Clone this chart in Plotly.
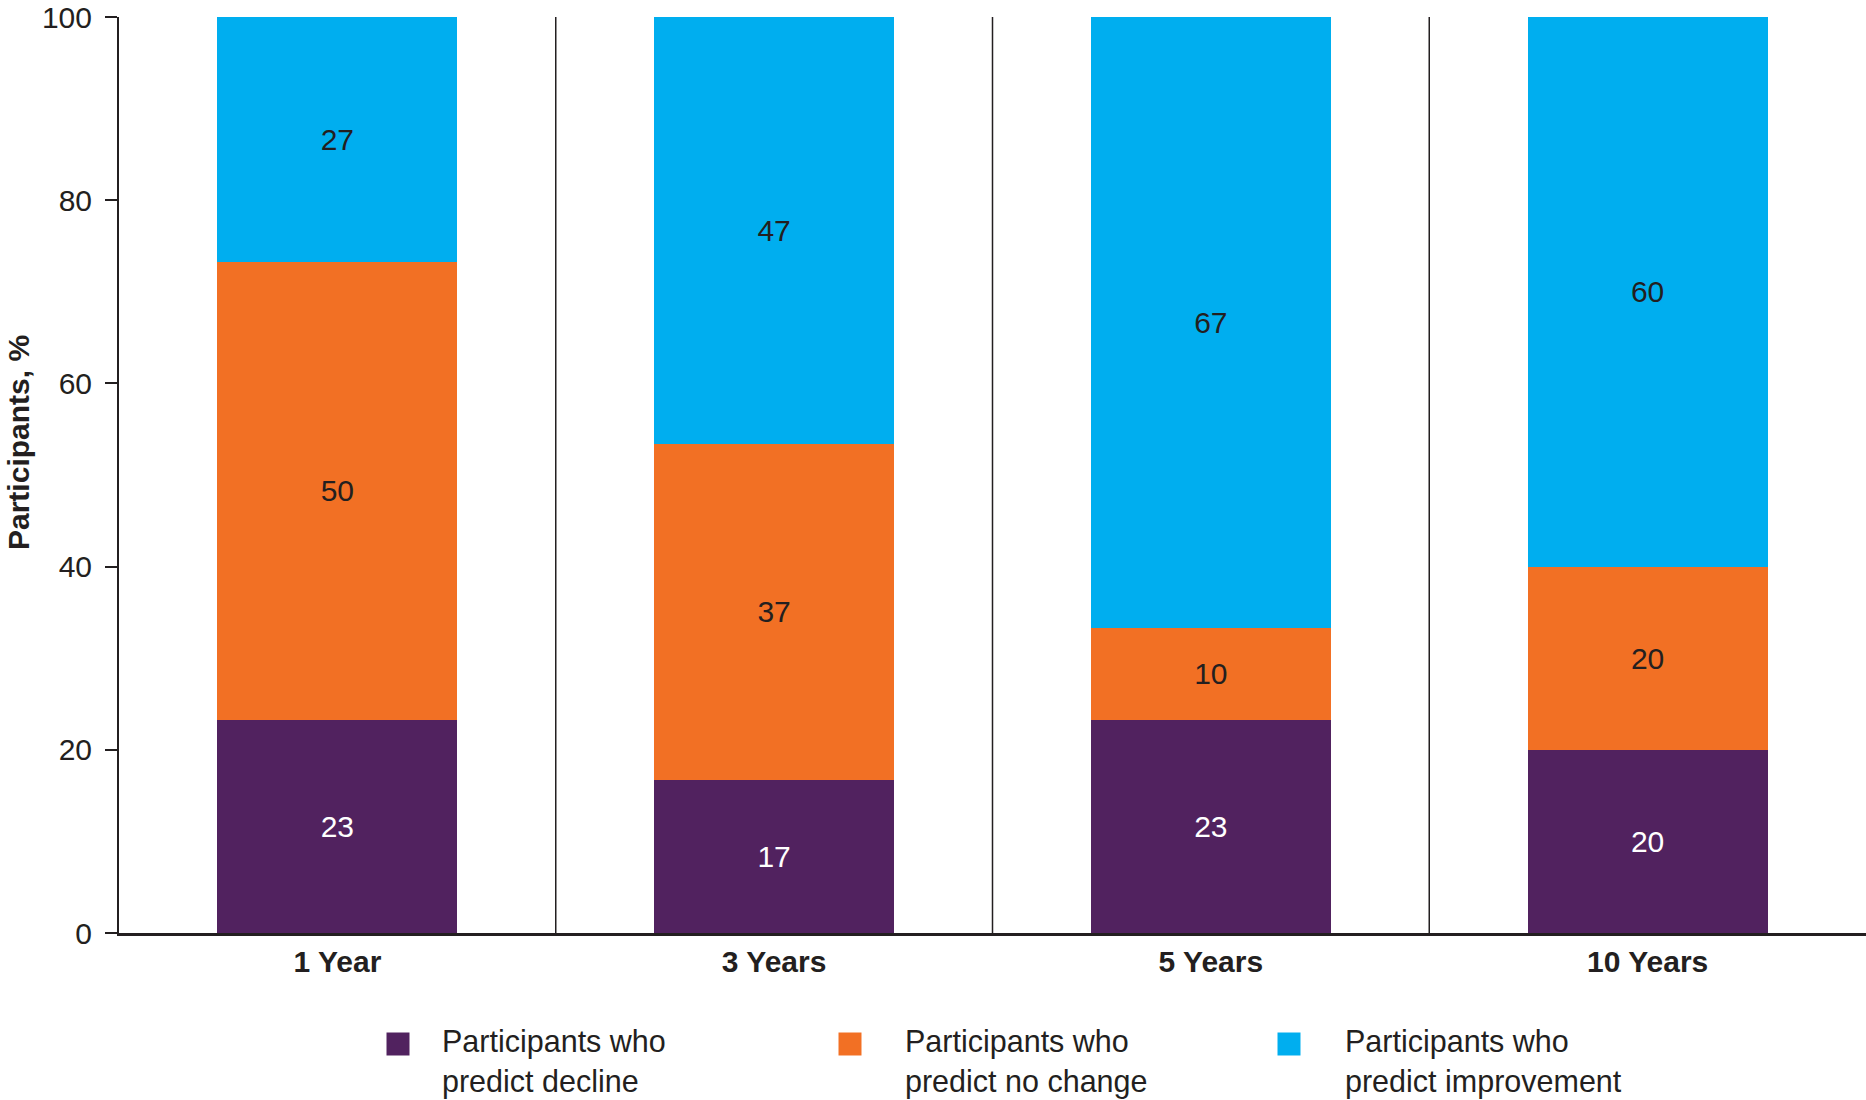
import plotly.graph_objects as go

# Survey horizons (x categories)
categories = ["1 Year", "3 Years", "5 Years", "10 Years"]

# Share of participants (%) per outlook
decline = [23.3, 16.7, 23.3, 20.0]
no_change = [50.0, 36.7, 10.0, 20.0]
improvement = [26.7, 46.6, 66.7, 60.0]

series_names = [
    "Participants who<br>predict decline",
    "Participants who<br>predict no change",
    "Participants who<br>predict improvement",
]

y_ticks = [0, 20, 40, 60, 80, 100]

PURPLE = "#51225F"
ORANGE = "#F27024"
BLUE = "#00AEEF"
INK = "#231F20"
FONT = "Liberation Sans, Arial, sans-serif"

W, H = 1866, 1100
M_L, M_R, M_T, M_B = 119, 0, 17, 167
plot_w = W - M_L - M_R
plot_h = H - M_T - M_B


def px_x(px):
    # pixel column -> paper x
    return (px - M_L) / plot_w


def px_y(py):
    # pixel row -> paper y
    return (H - M_B - py) / plot_h


fig = go.Figure()

stack = [
    (decline, series_names[0], PURPLE, "white"),
    (no_change, series_names[1], ORANGE, INK),
    (improvement, series_names[2], BLUE, INK),
]
for values, name, color, txt_color in stack:
    fig.add_trace(go.Bar(
        x=categories,
        y=values,
        name=name,
        marker=dict(color=color, line=dict(width=0)),
        texttemplate="%{y:.0f}",
        textposition="inside",
        insidetextanchor="middle",
        textangle=0,
        textfont=dict(family=FONT, size=30, color=txt_color),
        showlegend=False,
        hoverinfo="skip",
    ))

# thin separators between the year groups
shapes = []
for i in range(1, len(categories)):
    shapes.append(dict(
        type="line", xref="x", yref="y",
        x0=i - 0.5, x1=i - 0.5, y0=0, y1=100,
        line=dict(color=INK, width=1.5),
        layer="below",
    ))

# hand-made legend so the swatches can be as big as the original
legend_swatch_px = [398, 850, 1289]
legend_text_px = [440, 903, 1343]
legend_colors = [PURPLE, ORANGE, BLUE]
annotations = []
for sx, tx, col, name in zip(legend_swatch_px, legend_text_px, legend_colors, series_names):
    shapes.append(dict(
        type="rect", xref="paper", yref="paper",
        xsizemode="pixel", ysizemode="pixel",
        xanchor=px_x(sx), yanchor=px_y(1044),
        x0=-11.5, x1=11.5, y0=-11.5, y1=11.5,
        fillcolor=col, line=dict(width=0),
    ))
    annotations.append(dict(
        xref="paper", yref="paper",
        x=px_x(tx), y=px_y(1061),
        xanchor="left", yanchor="middle",
        text=name, showarrow=False, align="left",
        font=dict(family=FONT, size=30.5, color=INK),
    ))

annotations.append(dict(
    xref="paper", yref="paper",
    x=px_x(18), y=px_y(443),
    xanchor="center", yanchor="middle",
    text="<b>Participants, %</b>", textangle=-90, showarrow=False,
    font=dict(family=FONT, size=30, color=INK),
))

fig.update_layout(
    width=W, height=H,
    margin=dict(l=M_L, r=M_R, t=M_T, b=M_B),
    barmode="stack",
    bargap=0.45,
    plot_bgcolor="white",
    paper_bgcolor="white",
    font=dict(family=FONT, size=30, color=INK),
    shapes=shapes,
    annotations=annotations,
    showlegend=False,
)

fig.update_xaxes(
    type="category",
    showline=True, linecolor=INK, linewidth=2.5,
    showgrid=False, ticks="",
    tickfont=dict(family=FONT, size=30, color=INK, weight="bold"),
    ticklabelstandoff=0,
)

fig.update_yaxes(
    range=[0, 100],
    tickvals=y_ticks,
    showline=True, linecolor=INK, linewidth=2,
    ticks="outside", ticklen=12, tickwidth=2, tickcolor=INK,
    showgrid=False, zeroline=False,
    tickfont=dict(family=FONT, size=30, color=INK),
    ticklabelstandoff=7,
    ticklabeloverflow="allow",
)

# drop the default 8px page margin so the figure fills the window exactly
fig.write_html(
    "out.html",
    config={"displayModeBar": False},
    post_script="document.body.style.margin = '0';",
)
